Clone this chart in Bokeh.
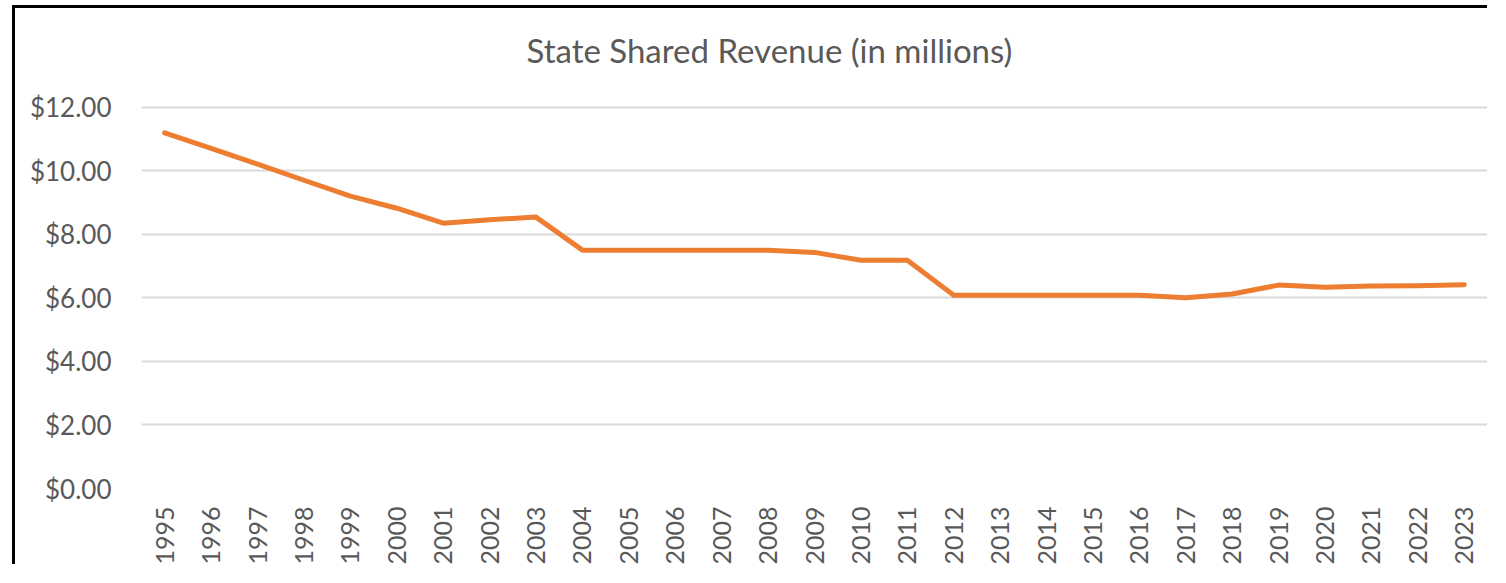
from bokeh.plotting import figure
from bokeh.models import Range1d, FixedTicker, NumeralTickFormatter, Label
from bokeh.embed import file_html
from bokeh.resources import INLINE
import math

years = [str(y) for y in range(1995, 2024)]
revenue = [11.19, 10.70, 10.21, 9.70, 9.20, 8.82, 8.35, 8.46, 8.54, 7.50,
           7.50, 7.50, 7.50, 7.50, 7.43, 7.18, 7.18, 6.08, 6.08, 6.08,
           6.08, 6.08, 6.00, 6.12, 6.40, 6.33, 6.37, 6.38, 6.41]
y_ticks = [0, 2, 4, 6, 8, 10, 12]
title_text = "State Shared Revenue (in millions)"

FONT = "Lato"
GREY = "#595959"

# frame extends above the $12 gridline so the chart title can sit inside it
FRAME_TOP, GRID_TOP, FRAME_BOTTOM = 20, 99, 482
y_end = max(y_ticks) * (FRAME_BOTTOM - FRAME_TOP) / (FRAME_BOTTOM - GRID_TOP)

p = figure(x_range=years, y_range=Range1d(0, y_end), width=1475, height=559,
           output_backend="svg", toolbar_location=None,
           min_border_left=126, min_border_right=3, min_border_top=FRAME_TOP,
           min_border_bottom=559 - FRAME_BOTTOM)
p.x_range.range_padding = 0
p.styles = {"margin-left": "12px", "margin-top": "5px",
            "border-left": "3px solid #000", "border-top": "3px solid #000"}

p.add_layout(Label(x=385, y=439, x_units="screen", y_units="screen",
                   text=title_text, text_font=FONT, text_font_size="33px",
                   text_color=GREY, text_align="left",
                   text_baseline="alphabetic"))

p.outline_line_color = None
p.xgrid.grid_line_color = None
p.ygrid.grid_line_color = "#d9d9d9"
p.ygrid.grid_line_width = 2

p.yaxis.ticker = FixedTicker(ticks=y_ticks)
p.yaxis.formatter = NumeralTickFormatter(format="$0.00")
for ax in (p.xaxis[0], p.yaxis[0]):
    ax.axis_line_color = None
    ax.major_tick_line_color = None
    ax.minor_tick_line_color = None
    ax.major_label_text_font = FONT
    ax.major_label_text_color = GREY
p.yaxis.major_label_text_font_size = "26px"
p.xaxis.major_label_text_font_size = "25px"
p.yaxis.major_label_standoff = 24
p.xaxis.major_label_standoff = 12
p.xaxis.major_label_orientation = math.pi / 2

p.line(years, revenue, line_color="#ED7D31", line_width=5,
       line_cap="round", line_join="round")

open("out.html", "w").write(file_html(p, INLINE))
